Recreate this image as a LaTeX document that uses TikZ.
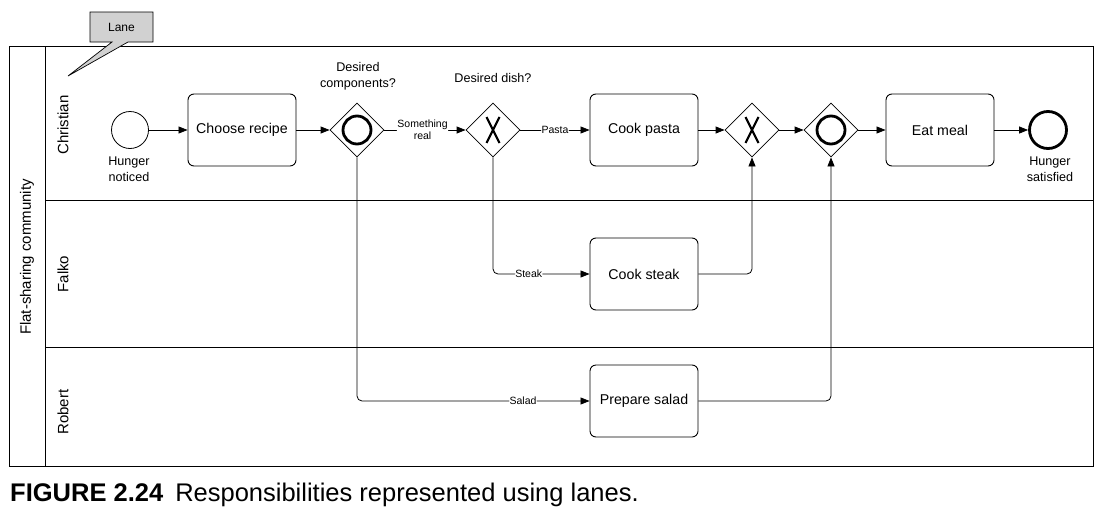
\documentclass[tikz,border=0pt]{standalone}
\usepackage{fontspec}
\setmainfont{Liberation Sans}
\usetikzlibrary{arrows.meta,shapes.geometric,calc,positioning}
\tikzset{
  task/.style={draw,rounded corners=6pt,minimum width=108pt,minimum height=72pt,line width=0.9pt,font=\fontsize{14.2}{16}\selectfont},
  gw/.style={draw,diamond,minimum width=54pt,minimum height=54pt,inner sep=0pt,line width=0.8pt},
  flow/.style={line width=0.8pt,-{Triangle[length=9pt,width=7pt]},rounded corners=5pt},
  lbl/.style={font=\fontsize{12.6}{16}\selectfont,align=center},
  elbl/.style={font=\fontsize{10.5}{12}\selectfont,align=center,fill=white,inner sep=0.5pt},
  lanetxt/.style={rotate=90,font=\fontsize{15}{17}\selectfont},
  frame/.style={line width=0.9pt}
}
\begin{document}
\begin{tikzpicture}[x=1pt,y=-1pt]
\useasboundingbox (0,0) rectangle (1107,514);
% pool and lanes
\draw[frame] (9,46) rectangle (1093,466);
\draw[frame] (45,46) -- (45,466);
\draw[frame] (45,200) -- (1093,200);
\draw[frame] (45,347) -- (1093,347);
\node[lanetxt] (pool) at (27,257) {Flat-sharing community};
\node[lanetxt] (l1) at (63,125) {Christian};
\node[lanetxt] (l2) at (63,274) {Falko};
\node[lanetxt] (l3) at (63,412) {Robert};
% callout
\coordinate (cp) at (68,76);
\draw[fill=black!18,line width=0.7pt] (90,12) -- (153,12) -- (153,42) -- (128,42) -- (cp) -- (112,42) -- (90,42) -- cycle;
\node[font=\fontsize{12}{13}\selectfont] (lane) at (121.5,27) {Lane};
% events
\node[draw,circle,minimum size=37pt,inner sep=0pt,line width=0.8pt] (start) at (130,130) {};
\node[lbl] (startl) at (129,169) {Hunger\\noticed};
\node[draw,circle,minimum size=37pt,inner sep=0pt,line width=2.8pt] (end) at (1048,130) {};
\node[lbl] (endl) at (1050,169) {Hunger\\satisfied};
% tasks
\node[task] (choose) at (242,130) {Choose recipe};
\node[task] (pasta) at (644,130) {Cook pasta};
\node[task] (steak) at (644,274) {Cook steak};
\node[task] (salad) at (644,401) {Prepare salad};
\node[task] (eat) at (940,130) {Eat meal};
% gateways
\node[gw] (g1) at (357,130) {};
\draw[line width=2.8pt] (g1) circle (14pt);
\node[lbl] (g1l) at (358,76) {Desired\\components?};
\node[gw] (g2) at (493,130) {};
\draw[line width=2.2pt] ($(g2)+(-6.5,-13)$) -- ($(g2)+(6.5,13)$) ($(g2)+(6.5,-13)$) -- ($(g2)+(-6.5,13)$);
\node[lbl] (g2l) at (493,78) {Desired dish?};
\node[gw] (g3) at (752,130) {};
\draw[line width=2.2pt] ($(g3)+(-6.5,-13)$) -- ($(g3)+(6.5,13)$) ($(g3)+(6.5,-13)$) -- ($(g3)+(-6.5,13)$);
\node[gw] (g4) at (831,130) {};
\draw[line width=2.8pt] (g4) circle (14pt);
% flows
\draw[flow] (start) -- (choose);
\draw[flow] (choose) -- (g1);
\draw[flow] (g1) -- node[elbl,pos=0.47] {Something\\real} (g2);
\draw[flow] (g2) -- node[elbl,pos=0.5] {Pasta} (pasta);
\draw[flow] (g2.south) |- node[elbl,pos=0.685] {Steak} (steak);
\draw[flow] (g1.south) |- node[elbl,pos=0.857] {Salad} (salad);
\draw[flow] (pasta) -- (g3);
\draw[flow] (g3) -- (g4);
\draw[flow] (g4) -- (eat);
\draw[flow] (eat) -- (end);
\draw[flow] (steak) -| (g3.south);
\draw[flow] (salad) -| (g4.south);
% caption
\node[anchor=west,font=\fontsize{25.5}{28}\selectfont,inner sep=0pt] (cap) at (10,495) {\textbf{FIGURE 2.24}\hspace{12pt}Responsibilities represented using lanes.};
\end{tikzpicture}
\end{document}
